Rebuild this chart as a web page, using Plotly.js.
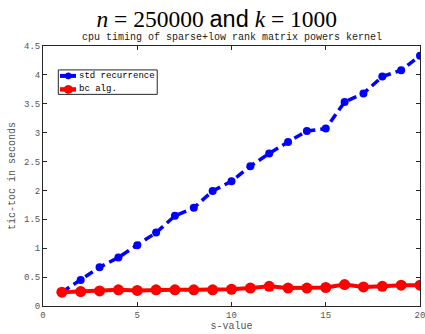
<!DOCTYPE html>
<html><head><meta charset="utf-8">
<script src="https://cdn.plot.ly/plotly-3.0.1.min.js"></script>
<style>html,body{margin:0;padding:0;background:#fff}</style>
</head><body>
<div id="chart" style="width:425px;height:334px"></div>
<script>
const sValues = [1,2,3,4,5,6,7,8,9,10,11,12,13,14,15,16,17,18,19,20];
const stdRecurrence = [0.24,0.45,0.67,0.84,1.05,1.27,1.56,1.70,1.99,2.16,2.42,2.64,2.84,3.03,3.07,3.53,3.68,3.97,4.08,4.33];
const bcAlg = [0.24,0.25,0.26,0.28,0.27,0.28,0.28,0.28,0.28,0.29,0.31,0.34,0.31,0.31,0.32,0.37,0.33,0.34,0.36,0.36];
const seriesNames = ['std recurrence','bc alg.'];
const seriesColors = ['#0000ff','#ff0000'];
const xTicks = [0,5,10,15,20];
const yTicks = [0,0.5,1,1.5,2,2.5,3,3.5,4,4.5];
const yTickText = ['0','0.5','1','1.5','2','2.5','3','3.5','4','4.5'];

const mono = 'Liberation Mono, Courier New, monospace';
const traces = [
  {x: sValues, y: stdRecurrence, name: seriesNames[0], mode: 'lines+markers', showlegend: false,
   line: {color: seriesColors[0], width: 3.5, dash: '9px,5px'}, marker: {color: seriesColors[0], size: 8}},
  {x: sValues, y: bcAlg, name: seriesNames[1], mode: 'lines+markers', showlegend: false,
   line: {color: seriesColors[1], width: 4}, marker: {color: seriesColors[1], size: 11}}
];
const axisCommon = {
  showgrid: false, zeroline: false, showline: true, mirror: 'ticks',
  linecolor: '#262626', linewidth: 1, ticks: 'inside', ticklen: 4, tickcolor: '#262626',
  ticklabeloverflow: 'allow',
  tickfont: {family: mono, size: 9, color: '#555'}
};

// custom MATLAB-style legend (compact)
const legRows = [0.885, 0.833];
const legMarkerSize = [6, 8];
const legLineW = [4, 4.5];
const shapes = [{type: 'rect', xref: 'paper', yref: 'paper', x0: 0.0406, x1: 0.303, y0: 0.814, y1: 0.908,
                 fillcolor: '#fff', line: {color: '#262626', width: 1}}];
const annotations = [{text: 'cpu timing of sparse+low rank matrix powers kernel', xref: 'paper', yref: 'paper',
                 x: 0.5, y: 1.0, xanchor: 'center', yanchor: 'bottom', yshift: 1, showarrow: false,
                 font: {family: mono, size: 10, color: '#222'}}];
seriesNames.forEach((nm, i) => {
  shapes.push({type: 'line', xref: 'paper', yref: 'paper', x0: 0.0451, x1: 0.0875, y0: legRows[i], y1: legRows[i],
               line: {color: seriesColors[i], width: legLineW[i]}});
  const r = legMarkerSize[i] / 2;
  shapes.push({type: 'circle', xref: 'paper', yref: 'paper', xsizemode: 'pixel', ysizemode: 'pixel',
               xanchor: 0.0671, yanchor: legRows[i], x0: -r, x1: r, y0: -r, y1: r,
               fillcolor: seriesColors[i], line: {color: seriesColors[i], width: 1}});
  annotations.push({text: nm, xref: 'paper', yref: 'paper', x: 0.0928, y: legRows[i], xanchor: 'left',
                    yanchor: 'middle', showarrow: false, xshift: -1,
                    font: {family: mono, size: 9, color: '#000'}});
});

const layout = {
  width: 425, height: 334,
  margin: {l: 43, r: 5, t: 46, b: 28},
  paper_bgcolor: '#fff', plot_bgcolor: '#fff',
  title: {text: '<i>n</i> = 250000 <span style="font-family:Liberation Sans,Arial,sans-serif">and</span> <i>k</i> = 1000',
          font: {family: 'Liberation Serif, DejaVu Serif, serif', size: 23.5, color: '#000'},
          x: 0.51, xanchor: 'center', y: 0.945, yanchor: 'middle'},
  xaxis: Object.assign({}, axisCommon, {range: [0, 20], tickvals: xTicks,
          title: {text: 's-value', font: {family: mono, size: 10, color: '#555'}, standoff: 2}}),
  yaxis: Object.assign({}, axisCommon, {range: [0, 4.5], tickvals: yTicks, ticktext: yTickText,
          title: {text: 'tic-toc in seconds', font: {family: mono, size: 10, color: '#555'}, standoff: 6}}),
  showlegend: false,
  shapes: shapes,
  annotations: annotations
};
Plotly.newPlot('chart', traces, layout, {displayModeBar: false, staticPlot: true});
</script>
</body></html>
